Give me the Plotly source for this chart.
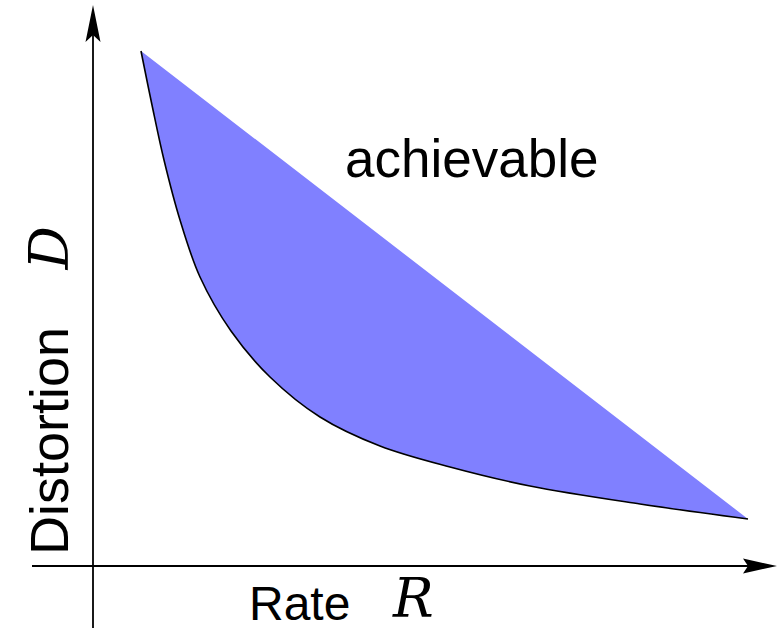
import plotly.graph_objects as go

# Lower boundary of the achievable region (rate, distortion)
rate = [0.48, 0.59, 0.71, 0.87, 1.07, 1.38, 1.77, 2.27, 2.87, 3.57, 4.37, 5.47, 6.55]
distortion = [5.15, 4.61, 4.06, 3.46, 2.89, 2.35, 1.89, 1.49, 1.20, 0.99, 0.80, 0.62, 0.47]

region_label = "achievable"
x_label_word, x_label_sym = "Rate", "R"
y_label_word, y_label_sym = "Distortion", "D"

FILL = "#8080FF"
SANS = "Liberation Sans, Arial, sans-serif"
SERIF = "DejaVu Serif, Liberation Serif, serif"

fig = go.Figure()

# filled region: closing the curve back to its first point gives the straight upper edge
fig.add_trace(go.Scatter(
    x=rate, y=distortion, mode="lines", fill="toself", fillcolor=FILL,
    line=dict(width=0, shape="spline", color=FILL), hoverinfo="skip", showlegend=False))
# black boundary curve
fig.add_trace(go.Scatter(
    x=rate, y=distortion, mode="lines",
    line=dict(width=1.6, shape="spline", color="black"), hoverinfo="skip", showlegend=False))

shapes = [
    dict(type="line", xref="x", yref="y", x0=0, x1=0, y0=-0.62, y1=5.36,
         line=dict(color="black", width=1.8)),
    dict(type="line", xref="x", yref="y", x0=-0.61, x1=6.58, y0=0, y1=0,
         line=dict(color="black", width=1.8)),
    dict(type="path", xref="x", yref="y",
         path="M 0,5.61 L 0.075,5.24 L 0,5.31 L -0.075,5.24 Z",
         fillcolor="black", line=dict(width=0)),
    dict(type="path", xref="x", yref="y",
         path="M 6.84,0 L 6.50,0.075 L 6.55,0 L 6.50,-0.075 Z",
         fillcolor="black", line=dict(width=0)),
]

annotations = [
    dict(text=region_label, x=3.78, y=4.08, xref="x", yref="y", showarrow=False,
         font=dict(family=SANS, size=53, color="black")),
    dict(text=x_label_word, x=2.06, y=-0.66, xref="x", yref="y", yanchor="bottom", showarrow=False,
         font=dict(family=SANS, size=48, color="black")),
    dict(text="<i>" + x_label_sym + "</i>", x=3.20, y=-0.66, xref="x", yref="y", yanchor="bottom",
         showarrow=False, font=dict(family=SERIF, size=54, color="black")),
    dict(text=y_label_word, x=-0.44, y=1.25, xref="x", yref="y", showarrow=False, textangle=-90,
         font=dict(family=SANS, size=54, color="black")),
    dict(text="<i>" + y_label_sym + "</i>", x=-0.44, y=3.175, xref="x", yref="y", showarrow=False,
         textangle=-90, font=dict(family=SERIF, size=54, color="black")),
]

fig.update_layout(
    width=778, height=632, margin=dict(l=0, r=0, t=0, b=0),
    paper_bgcolor="white", plot_bgcolor="white",
    xaxis=dict(range=[-0.93, 6.85], visible=False, fixedrange=True),
    yaxis=dict(range=[-0.66, 5.66], visible=False, fixedrange=True),
    shapes=shapes, annotations=annotations, showlegend=False,
)

post = """
document.body.style.margin = '0';
document.body.style.padding = '0';
document.body.style.overflow = 'hidden';
var gd = document.getElementById('{plot_id}');
Plotly.relayout(gd, {width: 778, height: 632});
"""

fig.write_html("out.html", post_script=post, config={"displayModeBar": False})
